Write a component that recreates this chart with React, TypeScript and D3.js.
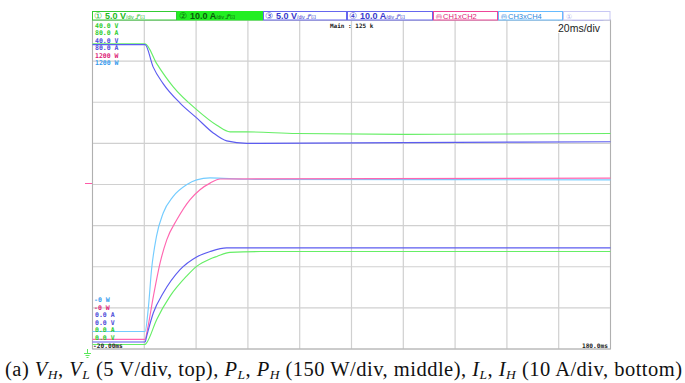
import React from 'react';
import * as d3 from 'd3';

const timeTicks = d3.range(-20, 181, 20);
const divTicks = d3.range(0, 9, 1);

// top traces: voltages (V), 5 V/div
const vGreenT = [-20, 0.3, 4.8, 11.1, 20.2, 28, 33.1, 39.5, 58.8, 100, 180];
const vGreen = [37.1, 37.1, 34.7, 31.9, 29.1, 27.2, 26.4, 26.4, 26.2, 26.1, 26.2];
const vBlueT = [-20, 0.3, 3.4, 7.2, 13.8, 20.2, 26.5, 31.8, 39.5, 100, 180];
const vBlue = [37.0, 37.0, 34.3, 32.3, 29.9, 28.1, 26.3, 25.3, 25.0, 25.1, 25.2];

// middle traces: power (W), 150 W/div
const pCyanT = [-20, 0.3, 1.5, 2.8, 4.7, 7.3, 11.1, 16.3, 20.2, 25.4, 40, 180];
const pCyan = [64, 64, 144, 290, 411, 496, 556, 599, 617, 624, 619, 617];
const pPinkT = [-20, 0.3, 1.2, 3.5, 6.1, 8.7, 12.6, 17.6, 21.5, 25.4, 29.3, 180];
const pPink = [35, 35, 71, 192, 314, 399, 472, 544, 581, 605, 620, 623];

// bottom traces: currents (A), 10 A/div
const iBlueT = [-20, 0.3, 0.9, 3.5, 7.3, 13.8, 20.2, 25.4, 31.8, 180];
const iBlue = [1.7, 1.7, 3.1, 8.8, 13.6, 19.3, 22.4, 23.7, 24.6, 24.6];
const iGreenT = [-20, 0.3, 0.9, 4.8, 9.9, 16.3, 20.2, 25.4, 28, 33.1, 45, 180];
const iGreen = [1.1, 1.1, 1.5, 7.2, 12.8, 17.7, 20.1, 21.9, 22.5, 23.5, 23.7, 23.7];

const topLabels = ['40.0 V', '80.0 A', '40.0 V', '80.0 A', '1200 W', '1200 W'];
const bottomLabels = ['-0 W', '-0 W', '0.0 A', '0.0 V', '0.0 A', '0.0 V'];
const labelColors = ['#2ccc2c', '#2ccc2c', '#4a4ad8', '#4a4ad8', '#dd2277', '#3399ee'];
const bottomColors = ['#3399ee', '#dd2277', '#4a4ad8', '#4a4ad8', '#2ccc2c', '#2ccc2c'];

const headerItems = [
  { num: '①', val: '5.0 V', unit: '/div', icon: '⅃ᴾ⊡', x0: 92, x1: 177, fill: '#fff', stroke: '#33cc33', color: '#22bb22' },
  { num: '②', val: '10.0 A', unit: '/div', icon: '⅃ᴾ⊡', x0: 177, x1: 263, fill: '#22ee22', stroke: '#22ee22', color: '#0a5a0a' },
  { num: '③', val: '5.0 V', unit: '/div', icon: '⅃ᴾ⊡', x0: 263, x1: 347, fill: '#fff', stroke: '#6666ee', color: '#3a3acc' },
  { num: '④', val: '10.0 A', unit: '/div', icon: '⅃ᴾ⊡', x0: 347, x1: 433, fill: '#fff', stroke: '#6666ee', color: '#3a3acc' },
];
const mathItems = [
  { label: 'CH1xCH2', x0: 433, x1: 498, stroke: '#ee4499', color: '#dd2277' },
  { label: 'CH3xCH4', x0: 498, x1: 563, stroke: '#66bbff', color: '#2a88dd' },
];

const caption = [
  { t: '(a) ' }, { t: 'V', i: true }, { t: 'H', s: true }, { t: ', ' }, { t: 'V', i: true }, { t: 'L', s: true },
  { t: ' (5 V/div, top), ' }, { t: 'P', i: true }, { t: 'L', s: true }, { t: ', ' }, { t: 'P', i: true }, { t: 'H', s: true },
  { t: ' (150 W/div, middle), ' }, { t: 'I', i: true }, { t: 'L', s: true }, { t: ', ' }, { t: 'I', i: true }, { t: 'H', s: true },
  { t: ' (10 A/div, bottom)' },
];

const W = 685;
const H = 383;
const left = 92.5, right = 610.5, top = 20, bottom = 349;

export default function App() {
  const x = d3.scaleLinear().domain([-20, 180]).range([left, right]);
  const yDiv = d3.scaleLinear().domain([0, 8]).range([bottom, top]);
  const yV = d3.scaleLinear().domain([0, 40]).range([bottom, top]);
  const yW = d3.scaleLinear().domain([0, 1200]).range([bottom, top]);
  const yA = d3.scaleLinear().domain([0, 80]).range([bottom, top]);

  const mk = (ts: number[], vs: number[], y: d3.ScaleLinear<number, number>) =>
    d3.line<number>().x((_, i) => x(ts[i])).y(d => y(d)).curve(d3.curveMonotoneX)(vs) || '';

  const traces = [
    { d: mk(vGreenT, vGreen, yV), c: '#66ee66' },
    { d: mk(vBlueT, vBlue, yV), c: '#5c5cf0' },
    { d: mk(pCyanT, pCyan, yW), c: '#74ccff' },
    { d: mk(pPinkT, pPink, yW), c: '#ff66b0' },
    { d: mk(iGreenT, iGreen, yA), c: '#66ee66' },
    { d: mk(iBlueT, iBlue, yA), c: '#5c5cf0' },
  ];

  const mono = '"DejaVu Sans Mono", monospace';

  return (
    <svg width={W} height={H} style={{ position: 'absolute', left: 0, top: 0, background: '#fff' }}>
      {/* grid */}
      <g stroke="#d0d0d0" strokeWidth={1.2}>
        {timeTicks.map(t => (
          <line key={'vx' + t} x1={x(t)} x2={x(t)} y1={top} y2={bottom} />
        ))}
        {divTicks.map(d => (
          <line key={'hy' + d} x1={left} x2={right} y1={yDiv(d)} y2={yDiv(d)} />
        ))}
      </g>
      <rect x={left} y={top} width={right - left} height={bottom - top} fill="none" stroke="#b0b0b0" strokeWidth={1} />

      {/* traces */}
      <g fill="none" strokeWidth={1.15}>
        {traces.map((tr, i) => (
          <path key={i} d={tr.d} stroke={tr.c} />
        ))}
      </g>

      {/* header bar */}
      <g fontFamily='"Liberation Sans", Arial, sans-serif' fontWeight="bold">
        {headerItems.map((h, i) => (
          <g key={i}>
            <rect x={h.x0 + 0.5} y={11.5} width={h.x1 - h.x0 - 1} height={8.5} fill={h.fill} stroke={h.stroke} strokeWidth={1} />
            <text x={h.x0 + 2} y={19} fill={h.color} fontSize={9}>
              <tspan fontWeight="normal">{h.num}</tspan>
              <tspan dx={3}>{h.val}</tspan>
              <tspan fontSize={5} fontWeight="normal">{h.unit}</tspan>
              <tspan fontSize={6} fontWeight="normal" dx={1}>{h.icon}</tspan>
            </text>
          </g>
        ))}
        {mathItems.map((m, i) => (
          <g key={'m' + i}>
            <rect x={m.x0 + 0.5} y={11.5} width={m.x1 - m.x0 - 1} height={8.5} fill="#fff" stroke={m.stroke} strokeWidth={1} />
            <text x={m.x0 + 3} y={18.8} fill={m.color} fontSize={7.5} fontWeight="normal">
              <tspan fontSize={6}>ⓜ</tspan>
              <tspan dx={1}>{m.label}</tspan>
            </text>
          </g>
        ))}
        <rect x={563.5} y={11.5} width={46.5} height={8.5} fill="#fff" stroke="#c8c8f4" strokeWidth={1} />
        <text x={566} y={18.8} fill="#b0b0ee" fontSize={7} fontWeight="normal">①________</text>
      </g>

      <text x={330} y={28} fontFamily={mono} fontSize={6} fontWeight="bold" fill="#222">Main : 125 k</text>
      <rect x={556} y={21} width={53} height={12} fill="#fff" />
      <text x={558} y={32} fontFamily='"Liberation Sans", Arial, sans-serif' fontSize={10.5} fill="#222">20ms/div</text>

      {/* channel scale labels */}
      <g fontFamily={mono} fontSize={6.5} fontWeight="bold">
        {topLabels.map((l, i) => (
          <text key={'t' + i} x={95} y={27.5 + i * 7.5} fill={labelColors[i]}>{l}</text>
        ))}
        {bottomLabels.map((l, i) => (
          <text key={'b' + i} x={l.startsWith('-') ? 94 : 95} y={302 + i * 7.6} fill={bottomColors[i]}>{l}</text>
        ))}
        <text x={93} y={348} fill="#222" fontSize={6.2}>-20.00ms</text>
        <text x={608} y={348} fill="#222" fontSize={6.2} textAnchor="end">180.0ms</text>
      </g>

      {/* trigger level and ground markers */}
      <line x1={85} x2={92} y1={183.5} y2={183.5} stroke="#ff5aa8" strokeWidth={1} />
      <g stroke="#5ae85a" strokeWidth={1}>
        <line x1={87.5} x2={87.5} y1={349} y2={353} />
        <line x1={84} x2={91} y1={353.5} y2={353.5} />
        <line x1={85.5} x2={89.5} y1={355.5} y2={355.5} />
        <line x1={86.5} x2={88.5} y1={357.5} y2={357.5} />
      </g>

      {/* caption */}
      <text x={5} y={375.5} fontFamily='"Liberation Serif", "Times New Roman", serif' fontSize={20.5} fill="#111"
        textLength={677} lengthAdjust="spacing">
        {caption.map((c, i) => {
          const prevSub = i > 0 && caption[i - 1].s;
          if (c.s) {
            return <tspan key={i} fontStyle="italic" fontSize={13.5} dy={3.5}>{c.t}</tspan>;
          }
          return (
            <tspan key={i} fontStyle={c.i ? 'italic' : 'normal'} dy={prevSub ? -3.5 : 0}>{c.t}</tspan>
          );
        })}
      </text>
    </svg>
  );
}
